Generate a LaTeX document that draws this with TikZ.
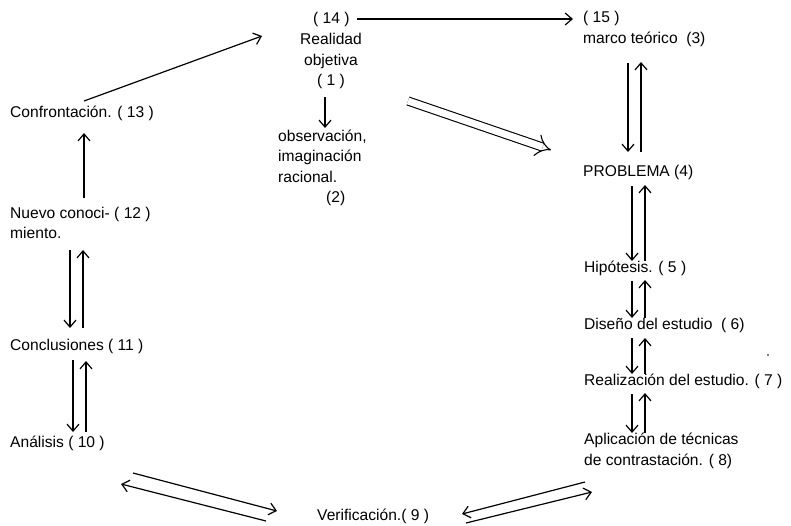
\documentclass[tikz,border=0pt]{standalone}
\usepackage{fontspec}
\setmainfont{Liberation Sans}
\usetikzlibrary{arrows.meta}
\begin{document}
\begin{tikzpicture}[x=1pt,y=-1pt,
  lbl/.style={anchor=west,inner sep=0pt,font=\fontsize{15.6}{20.5}\selectfont,align=left},
  arr/.style={line width=1.2pt,-{Straight Barb[length=7pt,width=12pt]}},
  dbl/.style={double,double distance=7pt,line width=1.1pt,-{Implies}}]
\useasboundingbox (0,0) rectangle (791,525);

% text of the cycle
\node[lbl] (n14) at (313,19) {( 14 )};
\node[lbl,anchor=center,align=center] (n1) at (331,61) {Realidad\\objetiva\\( 1 )};
\node[lbl] (n2) at (278,168) {observación,\\imaginación\\racional.\\\hspace*{48pt}(2)};
\node[lbl] (n15) at (583,29) {( 15 )\\marco teórico\ \ (3)};
\node[lbl] (n4) at (583,172) {PROBLEMA (4)};
\node[lbl] (n5) at (584,268) {Hipótesis. ( 5 )};
\node[lbl] (n6) at (584,325) {Diseño del estudio\ \ ( 6)};
\node[lbl] (n7) at (584,381) {Realización del estudio. ( 7 )};
\node[lbl] (n8) at (584,451) {Aplicación de técnicas\\de contrastación. ( 8)};
\node[lbl] (n9) at (317,516) {Verificación.( 9 )};
\node[lbl] (n10) at (10,443) {Análisis ( 10 )};
\node[lbl] (n11) at (10,346) {Conclusiones ( 11 )};
\node[lbl] (n12) at (10,223) {Nuevo conoci- ( 12 )\\miento.};
\node[lbl] (n13) at (10,113) {Confrontación. ( 13 )};
\fill (768,355) circle (0.9);

% arrow end points
\coordinate (a14) at (357,19);  \coordinate (b15) at (573,19);
\coordinate (a13) at (84,101);  \coordinate (b1) at (262,36);
\coordinate (a1) at (325,97);   \coordinate (b2) at (325,128);
\coordinate (d1) at (408,101);  \coordinate (d4) at (551,150);
% marco teórico <-> problema
\coordinate (p1) at (628,63);  \coordinate (p2) at (628,152);
\coordinate (q1) at (641,152); \coordinate (q2) at (641,62);
% problema <-> hipótesis
\coordinate (p3) at (632,186); \coordinate (p4) at (632,261);
\coordinate (q3) at (645,261); \coordinate (q4) at (645,185);
% hipótesis <-> diseño
\coordinate (p5) at (632,281); \coordinate (p6) at (632,318);
\coordinate (q5) at (645,318); \coordinate (q6) at (645,280);
% diseño <-> realización
\coordinate (p7) at (632,338); \coordinate (p8) at (632,374);
\coordinate (q7) at (645,374); \coordinate (q8) at (645,338);
% realización <-> aplicación
\coordinate (p9) at (632,394); \coordinate (p10) at (632,433);
\coordinate (q9) at (645,433); \coordinate (q10) at (645,393);
% aplicación <-> verificación
\coordinate (r1) at (585,482); \coordinate (r2) at (462,514);
\coordinate (s1) at (466,523); \coordinate (s2) at (592,492);
% verificación <-> análisis
\coordinate (t1) at (133,473); \coordinate (t2) at (277,511);
\coordinate (u1) at (266,521); \coordinate (u2) at (121,484);
% análisis <-> conclusiones
\coordinate (v1) at (73,360);  \coordinate (v2) at (73,432);
\coordinate (w1) at (86,432);  \coordinate (w2) at (86,361);
% conclusiones <-> nuevo conocimiento
\coordinate (v3) at (70,250);  \coordinate (v4) at (70,328);
\coordinate (w3) at (83,328);  \coordinate (w4) at (83,250);
% nuevo conocimiento -> confrontación
\coordinate (a12) at (84,198); \coordinate (b13) at (84,133);

% connectors
\draw[arr] (a14) -- (b15);
\draw[arr] (a13) -- (b1);
\draw[arr] (a1) -- (b2);
\draw[dbl] (d1) -- (d4);
\draw[arr] (p1) -- (p2);  \draw[arr] (q1) -- (q2);
\draw[arr] (p3) -- (p4);  \draw[arr] (q3) -- (q4);
\draw[arr] (p5) -- (p6);  \draw[arr] (q5) -- (q6);
\draw[arr] (p7) -- (p8);  \draw[arr] (q7) -- (q8);
\draw[arr] (p9) -- (p10); \draw[arr] (q9) -- (q10);
\draw[arr] (r1) -- (r2);  \draw[arr] (s1) -- (s2);
\draw[arr] (t1) -- (t2);  \draw[arr] (u1) -- (u2);
\draw[arr] (v1) -- (v2);  \draw[arr] (w1) -- (w2);
\draw[arr] (v3) -- (v4);  \draw[arr] (w3) -- (w4);
\draw[arr] (a12) -- (b13);
\end{tikzpicture}
\end{document}
